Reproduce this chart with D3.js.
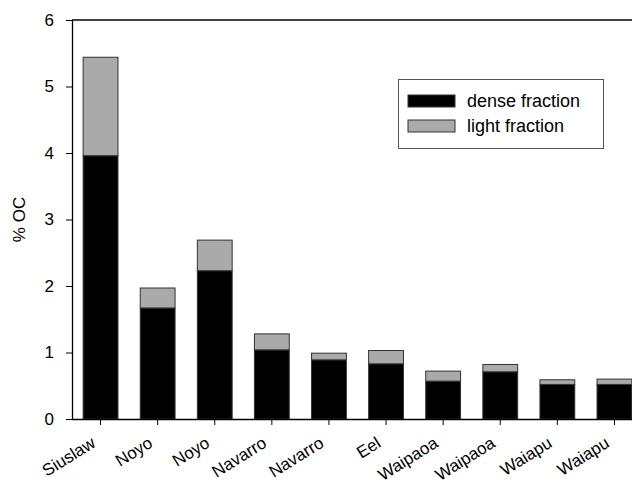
<!DOCTYPE html>
<html>
<head>
<meta charset="utf-8">
<script src="https://cdn.jsdelivr.net/npm/d3@7"></script>
<style>
  html, body { margin: 0; padding: 0; background: #fff; }
  svg { display: block; font-family: "Liberation Sans", Arial, sans-serif; }
</style>
</head>
<body>
<svg id="chart" width="632" height="485"></svg>
<script>
// Organic carbon split into dense and light fractions per river sample
const rivers = ["Siuslaw", "Noyo", "Noyo", "Navarro", "Navarro", "Eel", "Waipaoa", "Waipaoa", "Waiapu", "Waiapu"];
const denseFraction = [3.96, 1.67, 2.23, 1.04, 0.89, 0.83, 0.57, 0.71, 0.52, 0.52];
const lightFraction = [1.48, 0.30, 0.46, 0.24, 0.10, 0.20, 0.15, 0.11, 0.07, 0.08];
const seriesNames = ["dense fraction", "light fraction"];
const seriesColors = ["#000000", "#aaaaaa"];
const yTicks = [0, 1, 2, 3, 4, 5, 6];

const svg = d3.select("#chart");
const plotLeft = 72, plotTop = 20, plotBottom = 419, plotRight = 643;

const rows = rivers.map((r, i) => ({ idx: i, river: r, dense: denseFraction[i], light: lightFraction[i] }));
const stacked = d3.stack().keys(["dense", "light"])(rows);

const x = d3.scaleBand()
  .domain(rows.map(d => d.idx))
  .range([plotLeft, plotRight])
  .paddingInner(0.39)
  .paddingOuter(0.195);

const y = d3.scaleLinear().domain([0, 6]).range([plotBottom, plotTop]);

// bars
svg.append("g").selectAll("g")
  .data(stacked)
  .join("g")
  .attr("fill", (d, i) => seriesColors[i])
  .selectAll("rect")
  .data(d => d)
  .join("rect")
  .attr("x", d => x(d.data.idx))
  .attr("width", x.bandwidth())
  .attr("y", d => y(d[1]))
  .attr("height", d => y(d[0]) - y(d[1]))
  .attr("stroke", "#333")
  .attr("stroke-width", 1);

// top frame line
svg.append("line")
  .attr("x1", plotLeft).attr("x2", 632)
  .attr("y1", y(6)).attr("y2", y(6))
  .attr("stroke", "#000").attr("stroke-width", 1.3);

// y axis
const yAxis = svg.append("g")
  .attr("transform", `translate(${plotLeft},0)`)
  .call(d3.axisLeft(y).tickValues(yTicks).tickFormat(d3.format("d"))
    .tickSize(6).tickPadding(12).tickSizeOuter(0));
yAxis.select(".domain").attr("stroke", "#000").attr("stroke-width", 1.3);
yAxis.selectAll(".tick line").attr("stroke", "#000");
yAxis.selectAll(".tick text").attr("font-size", 17).attr("fill", "#000")
  .attr("font-family", "Liberation Sans, Arial, sans-serif");

// x axis
const xAxis = svg.append("g")
  .attr("transform", `translate(0,${plotBottom})`)
  .call(d3.axisBottom(x).tickSize(6).tickSizeOuter(0).tickFormat(i => rivers[i]));
xAxis.select(".domain").attr("stroke", "#000").attr("stroke-width", 1.3)
  .attr("d", `M${plotLeft},0.5H632`);
xAxis.selectAll(".tick line").attr("stroke", "#000");
xAxis.selectAll(".tick text")
  .attr("font-size", 17).attr("fill", "#000")
  .attr("font-family", "Liberation Sans, Arial, sans-serif")
  .attr("text-anchor", "end")
  .attr("x", 0).attr("y", 0).attr("dy", 0)
  .attr("transform", "translate(-4,27) rotate(-32)");

// y axis title
svg.append("text")
  .attr("transform", `translate(25,${(plotTop + plotBottom) / 2}) rotate(-90)`)
  .attr("text-anchor", "middle")
  .attr("font-size", 17)
  .text("% OC");

// legend
const legend = svg.append("g").attr("transform", "translate(398,79)");
legend.append("rect")
  .attr("x", 0.5).attr("y", 0.5).attr("width", 205).attr("height", 69)
  .attr("fill", "#fff").attr("stroke", "#555").attr("stroke-width", 1);
seriesNames.forEach((name, i) => {
  legend.append("rect")
    .attr("x", 10).attr("y", 16 + i * 25).attr("width", 47).attr("height", 12)
    .attr("fill", seriesColors[i]).attr("stroke", "#333").attr("stroke-width", 1);
  legend.append("text")
    .attr("x", 69).attr("y", 28 + i * 25)
    .attr("font-size", 18)
    .text(name);
});
</script>
</body>
</html>
